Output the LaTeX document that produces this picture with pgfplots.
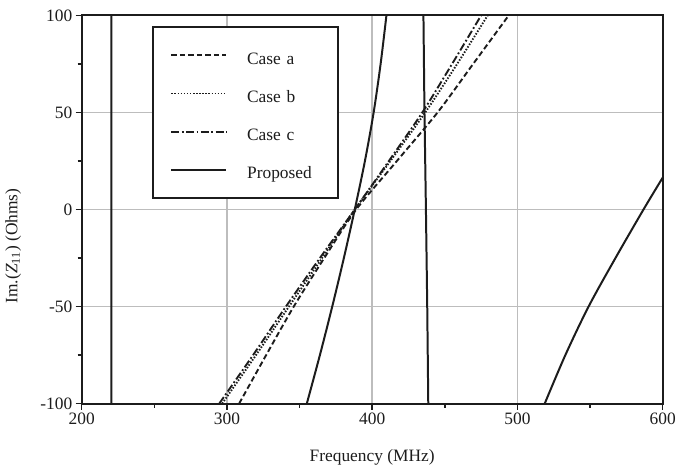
\documentclass[border=0pt]{standalone}
\usepackage{fontspec}
\setmainfont{Liberation Serif}
\usepackage{pgfplots}
\pgfplotsset{compat=1.18}

\definecolor{ink}{HTML}{1C1C1C}
\definecolor{gridgray}{HTML}{BDBDBD}

\begin{document}
\begin{tikzpicture}
\begin{axis}[
  name=ax,
  scale only axis, width=583bp, height=389.5bp,
  xmin=200, xmax=600, ymin=-100, ymax=100,
  xtick={200,300,...,600}, ytick={-100,-50,...,100},
  minor x tick num=1, minor y tick num=1,
  grid=major,
  major grid style={draw=gridgray, line width=1.8bp},
  tick pos=left, tick align=outside,
  major tick length=6bp, minor tick length=4bp,
  every tick/.style={ink, line width=1.4bp},
  axis line style={ink, line width=2bp},
  /pgf/number format/assume math mode=true,
  tick label style={font=\fontsize{17.5}{20}\selectfont, text=ink},
  label style={font=\fontsize{17.5}{20}\selectfont, text=ink},
  xlabel={Frequency (MHz)},
  ylabel={Im.(\textit{Z}\textsubscript{11}) (Ohms)},
  xlabel style={at={(axis description cs:0.5,-0.138)}, anchor=center},
  ylabel style={at={(axis description cs:-0.118,0.406)}, anchor=center},
  unbounded coords=jump,
  legend cell align=left,
  legend image code/.code={\draw[#1] (0bp,0bp) -- (55bp,0bp);},
  legend style={
    at={(axis description cs:0.1218,0.973)}, anchor=north west,
    draw=ink, line width=2bp, fill=white,
    inner xsep=17bp, inner ysep=15.5bp,
    font=\fontsize{17.5}{20}\selectfont, text=ink,
    nodes={inner sep=0pt, text height=22bp, text depth=4bp},
    row sep=12.3bp,
    /tikz/every odd column/.append style={column sep=20bp},
    /tikz/every even column/.append style={text width=74bp},
  },
]

% Case a
\addplot[ink, line width=1.9bp, dash pattern=on 5.5bp off 3bp, smooth] coordinates {
  (308.4,-100) (327,-75) (346,-50) (367,-25) (389,0)
  (417,25) (445,50) (469.5,75) (494,100)
};
\addlegendentry{Case a}

% Case b
\addplot[ink, line width=1.9bp, dash pattern=on 1.5bp off 1.6bp, smooth] coordinates {
  (296.7,-100) (320,-75) (342.7,-50) (365.5,-25) (388,0)
  (412.5,25) (436.5,50) (458.5,75) (479.5,100)
};
\addlegendentry{Case b}

% Case c
\addplot[ink, line width=1.9bp, dash pattern=on 8bp off 2.5bp on 1.8bp off 2.5bp, smooth] coordinates {
  (294.7,-100) (318,-75) (340.6,-50) (364,-25) (388,0)
  (411.5,25) (434.5,50) (455,75) (475,100)
};
\addlegendentry{Case c}

% Proposed: the two rising branches (smooth)
\addplot[ink, line width=2bp, smooth] coordinates {
  (355,-100) (364,-75) (372.5,-50) (380.5,-25) (388,0)
  (395,25) (401,50) (405.8,75) (409.8,100)
  (480,nan)
  (518.8,-100) (533,-75) (549,-50) (567.5,-25) (586.8,0) (600,16.4)
};
\addlegendentry{Proposed}

% Proposed: the steep jumps at the two poles (run past the frame, clipped)
\addplot[ink, line width=2bp, forget plot] coordinates {
  (220.4,106) (220.4,-106)
  (300,nan)
  (435.2,106) (436,50) (437,0) (437.9,-50) (438.7,-106)
};

\end{axis}
\path (ax.south west) ++(-82bp,-64bp) rectangle ++(679bp,469bp);
\end{tikzpicture}
\end{document}
